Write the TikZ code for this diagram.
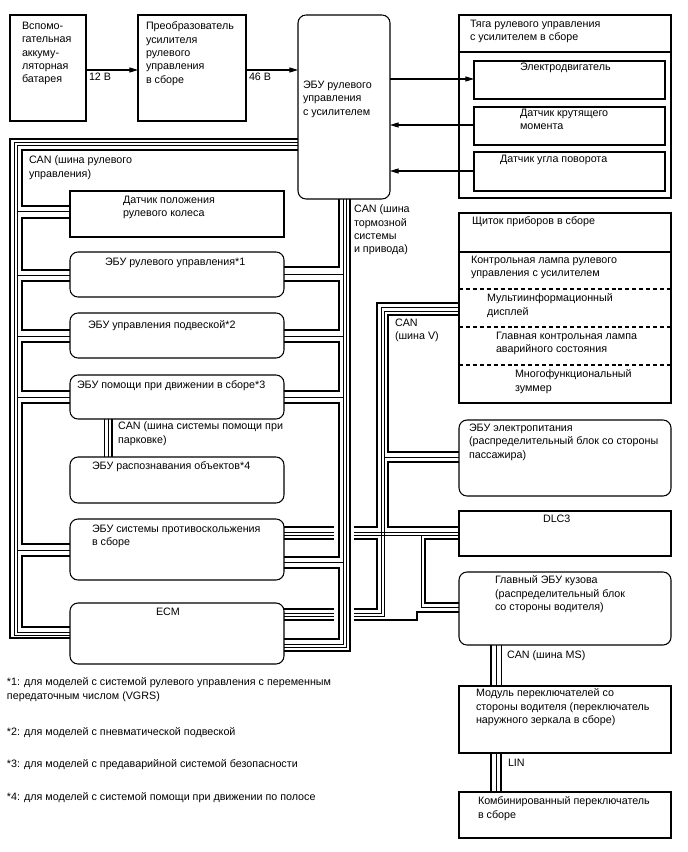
\documentclass[tikz,border=0pt]{standalone}
\usepackage{fontspec}
\setmainfont{Liberation Sans}
\usetikzlibrary{fit,arrows.meta}
\begin{document}
\begin{tikzpicture}[x=0.75pt,y=-0.75pt,
  box/.style={draw,line width=0.8pt,inner sep=0pt,outer sep=0pt},
  rbox/.style={box,rounded corners=6pt},
  txt/.style={anchor=north west,inner sep=0pt,outer sep=0pt,align=left,font=\fontsize{8.05}{10}\selectfont},
  thk/.style={line width=1.8pt},
  thn/.style={line width=0.75pt},
  arr/.style={line width=0.8pt,-{Triangle[length=6.5pt,width=3.8pt]}},
  dsh/.style={line width=0.8pt,dash pattern=on 3pt off 2.2pt},
]
\useasboundingbox (0,0) rectangle (688,852);

% ---------- boxes ----------
\node[box,fit={(10,15) (86,121)}] (bat) {};
\node[box,fit={(138,15) (246,121)}] (conv) {};
\node[rbox,fit={(298,15) (390,199)}] (ecu) {};
\node[box,fit={(459,15) (671,198)}] (gear) {};
\node[box,fit={(474,61) (665,99)}] (motor) {};
\node[box,fit={(474,107) (665,145)}] (torque) {};
\node[box,fit={(474,152) (665,191)}] (angle) {};
\node[box,fit={(70,191) (284,237)}] (sens) {};
\node[rbox,fit={(70,252) (284,297)}] (e1) {};
\node[rbox,fit={(70,313) (284,358)}] (e2) {};
\node[rbox,fit={(70,375) (284,419)}] (e3) {};
\node[rbox,fit={(70,457) (284,503)}] (e4) {};
\node[rbox,fit={(70,519) (284,580)}] (ab) {};
\node[rbox,fit={(70,603) (284,664)}] (ecm) {};
\node[box,fit={(459,213) (671,403)}] (meter) {};
\node[rbox,fit={(459,420) (671,496)}] (epu) {};
\node[box,fit={(459,511) (671,556)}] (dlc) {};
\node[rbox,fit={(459,572) (671,645)}] (body) {};
\node[box,fit={(459,686) (671,753)}] (msw) {};
\node[box,fit={(459,792) (671,838)}] (comb) {};

% dividers
\draw[line width=0.8pt] (gear.west|-0,52) -- (gear.east|-0,52);
\draw[line width=0.8pt] (meter.west|-0,252) -- (meter.east|-0,252);
\draw[dsh] (meter.west|-0,289) -- (meter.east|-0,289);
\draw[dsh] (meter.west|-0,327) -- (meter.east|-0,327);
\draw[dsh] (meter.west|-0,365) -- (meter.east|-0,365);

% ---------- arrows ----------
\draw[arr] (bat.east|-0,70) -- (conv.west|-0,70);
\draw[arr] (conv.east|-0,70) -- (ecu.west|-0,70);
\draw[arr] (ecu.east|-0,79) -- (motor.west|-0,79);
\draw[arr] (torque.west|-0,125) -- (ecu.east|-0,125);
\draw[arr] (angle.west|-0,171) -- (ecu.east|-0,171);

% ---------- steering bus (left) ----------
\draw[thk] (ecu.west|-0,139) -| (10,638) -- (ecm.west|-0,638);
\draw[thn] (ecu.west|-0,143) -| (14,635) -- (ecm.west|-0,635);
\draw[thn] (ecu.west|-0,146) -| (17,632) -- (ecm.west|-0,632);
\foreach \n/\y in {sens/212,e1/275,e2/336,e3/397,ab/550}
  \draw[thn] (17,\y) -- (\n.west|-0,\y);
\draw[thk] (ecu.west|-0,150) -| (22,206) -- (sens.west|-0,206);
\draw[thk] (sens.west|-0,218) -| (22,270) -- (e1.west|-0,270);
\draw[thk] (e1.west|-0,281) -| (22,330) -- (e2.west|-0,330);
\draw[thk] (e2.west|-0,342) -| (22,391) -- (e3.west|-0,391);
\draw[thk] (e3.west|-0,403) -| (22,544) -- (ab.west|-0,544);
\draw[thk] (ab.west|-0,556) -| (22,627) -- (ecm.west|-0,627);

% ---------- V bus (right network) ----------
\draw[thk] (meter.west|-0,303) -| (377,527) -- (ab.east|-0,527);
\draw[thn] (meter.west|-0,307) -| (381,613) -- (ecm.east|-0,613);
\draw[thn] (meter.west|-0,311) -| (384,616) -- (ecm.east|-0,616);
\draw[thn] (384,457) -- (epu.west|-0,457);
\draw[thk] (meter.west|-0,315) -| (388,452) -- (epu.west|-0,452);
\draw[thk] (epu.west|-0,462) -| (388,527) -- (dlc.west|-0,527);
\draw[thn] (ab.east|-0,532) -- (dlc.west|-0,532);
\draw[thn] (ab.east|-0,535) -- (dlc.west|-0,535);
\draw[thk] (ab.east|-0,539) -| (377,609) -- (ecm.east|-0,609);
\draw[thk] (dlc.west|-0,539) -| (425,603) -- (body.west|-0,603);
\draw[thn] (421,535) |- (body.west|-0,607);
\draw[thk] (body.west|-0,612) -| (417,620) -- (ecm.east|-0,620);

% gaps where the brake trunk crosses
\fill[white] (334,523) rectangle (354,543);
\fill[white] (334,605) rectangle (354,624);

% ---------- brake / drive bus ----------
\draw[thk] (ecu.south-|339,0) -- (339,267) -- (e1.east|-0,267);
\draw[thk] (e1.east|-0,281) -| (339,330) -- (e2.east|-0,330);
\draw[thk] (e2.east|-0,342) -| (339,391) -- (e3.east|-0,391);
\draw[thk] (e3.east|-0,403) -| (339,557) -- (ab.east|-0,557);
\draw[thk] (ab.east|-0,568) -| (339,639) -- (ecm.east|-0,639);
\draw[thn] (ecu.south-|343,0) -- (343,644) -- (ecm.east|-0,644);
\foreach \n/\y in {e1/274,e2/336,e3/397,ab/562}
  \draw[thn] (343,\y) -- (\n.east|-0,\y);
\draw[thn] (ecu.south-|346,0) -- (346,647) -- (ecm.east|-0,647);
\draw[thk] (ecu.south-|350,0) -- (350,651) -- (ecm.east|-0,651);

% ---------- parking bus, MS, LIN ----------
\draw[thn] (e3.south-|104,0) -- (e4.north-|104,0);
\draw[thn] (e3.south-|108,0) -- (e4.north-|108,0);
\draw[thk] (e3.south-|112,0) -- (e4.north-|112,0);
\draw[thk] (body.south-|491,0) -- (msw.north-|491,0);
\draw[thn] (body.south-|496,0) -- (msw.north-|496,0);
\draw[thn] (body.south-|501,0) -- (msw.north-|501,0);
\draw[thk] (msw.south-|491,0) -- (comb.north-|491,0);
\draw[thn] (msw.south-|496,0) -- (comb.north-|496,0);
\draw[thk] (msw.south-|501,0) -- (comb.north-|501,0);

% ---------- texts ----------
\node[txt] (tbat) at (22,22) {Вспомо-\\гательная\\аккуму-\\ляторная\\батарея};
\node[txt] (tconv) at (146,22) {Преобразователь\\усилителя\\рулевого\\управления\\в сборе};
\node[txt] (t12) at (89,73) {12 В};
\node[txt] (t46) at (249,73) {46 В};
\node[txt] (tecu) at (303,81) {ЭБУ рулевого\\управления\\с усилителем};
\node[txt] (tgear) at (470,20) {Тяга рулевого управления\\с усилителем в сборе};
\node[txt] (tmot) at (520,63) {Электродвигатель};
\node[txt] (ttor) at (520,109) {Датчик крутящего\\момента};
\node[txt] (tang) at (500,155) {Датчик угла поворота};
\node[txt] (tcan1) at (29,156) {CAN (шина рулевого\\управления)};
\node[txt] (tsens) at (123,196) {Датчик положения\\рулевого колеса};
\node[txt] (te1) at (105,258) {ЭБУ рулевого управления*1};
\node[txt] (te2) at (88,321) {ЭБУ управления подвеской*2};
\node[txt] (te3) at (77,381) {ЭБУ помощи при движении в сборе*3};
\node[txt] (tpark) at (118,422) {CAN (шина системы помощи при\\парковке)};
\node[txt] (te4) at (92,462) {ЭБУ распознавания объектов*4};
\node[txt] (tab) at (92,525) {ЭБУ системы противоскольжения\\в сборе};
\node[txt] (tecm) at (156,608) {ECM};
\node[txt] (tbrake) at (354,205) {CAN (шина\\тормозной\\системы\\и привода)};
\node[txt] (tmeter) at (472,217) {Щиток приборов в сборе};
\node[txt] (tlamp) at (471,256) {Контрольная лампа рулевого\\управления с усилителем};
\node[txt] (tmid) at (487,294) {Мультиинформационный\\дисплей};
\node[txt] (tmaster) at (496,332) {Главная контрольная лампа\\аварийного состояния};
\node[txt] (tbuzz) at (515,370) {Многофункциональный\\зуммер};
\node[txt] (tcanv) at (395,319) {CAN\\(шина V)};
\node[txt] (tepu) at (469,424) {ЭБУ электропитания\\(распределительный блок со стороны\\пассажира)};
\node[txt] (tdlc) at (543,515) {DLC3};
\node[txt] (tbody) at (495,576) {Главный ЭБУ кузова\\(распределительный блок\\со стороны водителя)};
\node[txt] (tms) at (507,651) {CAN (шина MS)};
\node[txt] (tmsw) at (476,689) {Модуль переключателей со\\стороны водителя (переключатель\\наружного зеркала в сборе)};
\node[txt] (tlin) at (508,759) {LIN};
\node[txt] (tcomb) at (478,797) {Комбинированный переключатель\\в сборе};
\node[txt] (f1) at (7,678) {*1: для моделей с системой рулевого управления с переменным\\передаточным числом (VGRS)};
\node[txt] (f2) at (7,728) {*2: для моделей с пневматической подвеской};
\node[txt] (f3) at (7,760) {*3: для моделей с предаварийной системой безопасности};
\node[txt] (f4) at (7,793) {*4: для моделей с системой помощи при движении по полосе};
\end{tikzpicture}
\end{document}
